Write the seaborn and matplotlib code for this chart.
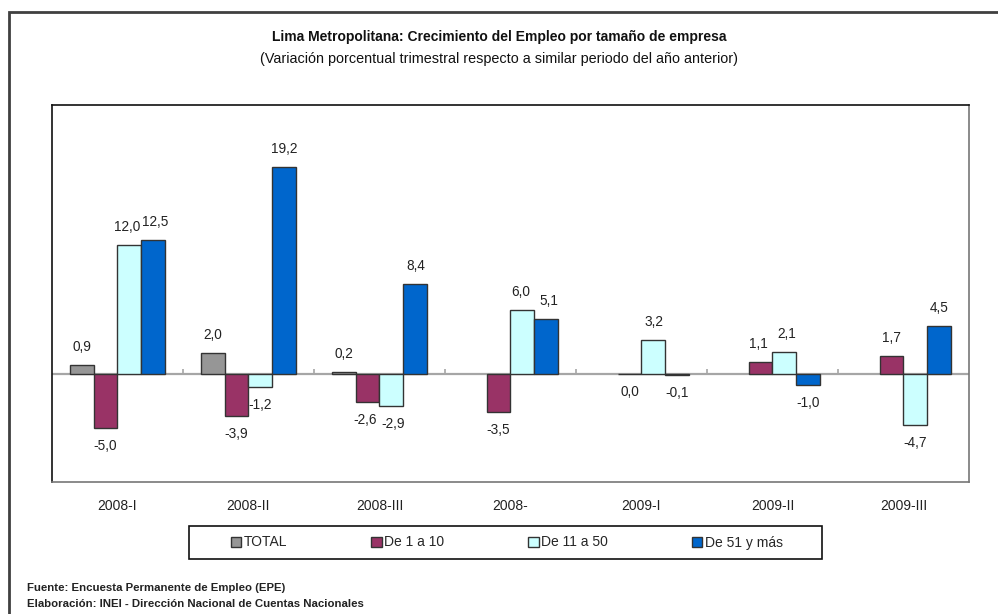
import numpy as np
import pandas as pd
import matplotlib.pyplot as plt
import seaborn as sns
from matplotlib.patches import Patch, Rectangle

trimestres = ["2008-I", "2008-II", "2008-III", "2008-", "2009-I", "2009-II", "2009-III"]
series = ["TOTAL", "De 1 a 10", "De 11 a 50", "De 51 y más"]
total = [0.9, 2.0, 0.2, np.nan, np.nan, np.nan, np.nan]
de_1_10 = [-5.0, -3.9, -2.6, -3.5, 0.0, 1.1, 1.7]
de_11_50 = [12.0, -1.2, -2.9, 6.0, 3.2, 2.1, -4.7]
de_51_mas = [12.5, 19.2, 8.4, 5.1, -0.1, -1.0, 4.5]
colores = ["#969696", "#993366", "#CCFFFF", "#0066CC"]

sns.set_style("white")
plt.rcParams["font.family"] = ["Liberation Sans", "DejaVu Sans"]

df = pd.DataFrame({"trimestre": trimestres, "TOTAL": total, "De 1 a 10": de_1_10,
                   "De 11 a 50": de_11_50, "De 51 y más": de_51_mas})
largo = df.melt(id_vars="trimestre", var_name="serie", value_name="valor").dropna()

fig = plt.figure(figsize=(9.98, 6.14), dpi=100)
ax = fig.add_axes([52/998, 1-482/614, (969-52)/998, (482-105)/614])

sns.barplot(data=largo, x="trimestre", y="valor", hue="serie", order=trimestres,
            hue_order=series, palette=colores, saturation=1, width=0.73, gap=0,
            errorbar=None, edgecolor="#333333", linewidth=1, legend=False, ax=ax, zorder=3)

ax.set_ylim(-10, 25)
ax.set_xlim(-0.5, len(trimestres) - 0.5)
ax.axhline(0, color="#a6a6a6", lw=1.6, zorder=2)
ax.vlines(np.arange(len(trimestres) - 1) + 0.5, 0, 0.45, color="#a6a6a6", lw=1.2, zorder=2)

# etiquetas de valor (con coma decimal); se separan un poco si dos vecinas quedan juntas
barras = sorted([b for c in ax.containers for b in c], key=lambda b: b.get_x())
for i, barra in enumerate(barras):
    v = barra.get_height()
    xc = barra.get_x() + barra.get_width() / 2
    dx = 0
    for j, lado in [(i - 1, 1.5), (i + 1, -1.5)]:
        if 0 <= j < len(barras):
            w = barras[j].get_height()
            cerca = abs(barras[j].get_x() - barra.get_x()) < 0.2
            if cerca and (v > 0) == (w > 0) and abs(v - w) < 1.5:
                dx += lado
    off = 13 if v > 0 else -13
    ax.annotate(f"{v:.1f}".replace(".", ","), (xc, v), xytext=(dx, off),
                textcoords="offset points", ha="center", va="center",
                fontsize=9.8, color="#222222")

ax.set_yticks([])
ax.set_xlabel("")
ax.set_ylabel("")
ax.tick_params(axis="x", length=0, pad=12, labelsize=10, labelcolor="#222222")
for s in ["top", "left"]:
    ax.spines[s].set_color("#111111")
for s in ["right", "bottom"]:
    ax.spines[s].set_color("#777777")
for s in ax.spines.values():
    s.set_linewidth(1.2)

fig.text(0.5, 1-37/614, "Lima Metropolitana: Crecimiento del Empleo por tamaño de empresa",
         ha="center", va="center", fontsize=10, fontweight="bold", color="#111111")
fig.text(0.5, 1-59/614, "(Variación porcentual trimestral respecto a similar periodo del año anterior)",
         ha="center", va="center", fontsize=10.4, color="#111111")

handles = [Patch(facecolor=c, edgecolor="#333333", lw=1, label=s) for c, s in zip(colores, series)]
leg = fig.legend(handles=handles, ncol=4, mode="expand", loc="center",
                 bbox_to_anchor=(231/998, 1-559/614, (783-231)/998, 33/614),
                 frameon=False, fontsize=10, handlelength=0.75, handleheight=0.75,
                 handletextpad=0.2, borderaxespad=0, borderpad=0)
fig.add_artist(Rectangle((189/998, 1-559/614), (822-189)/998, 33/614,
                         transform=fig.transFigure, fill=False, edgecolor="#111111", lw=1.2))

fig.text(27/998, 1-588/614, "Fuente: Encuesta Permanente de Empleo (EPE)",
         ha="left", va="center", fontsize=8.2, fontweight="bold", color="#222222")
fig.text(27/998, 1-604/614, "Elaboración: INEI - Dirección Nacional de Cuentas Nacionales",
         ha="left", va="center", fontsize=8.2, fontweight="bold", color="#222222")

fig.add_artist(Rectangle((9/998, -0.05), 1.1, 1.05 - 12/614, transform=fig.transFigure,
                         fill=False, edgecolor="#404040", lw=2))

fig.savefig("out.png", dpi=100)
